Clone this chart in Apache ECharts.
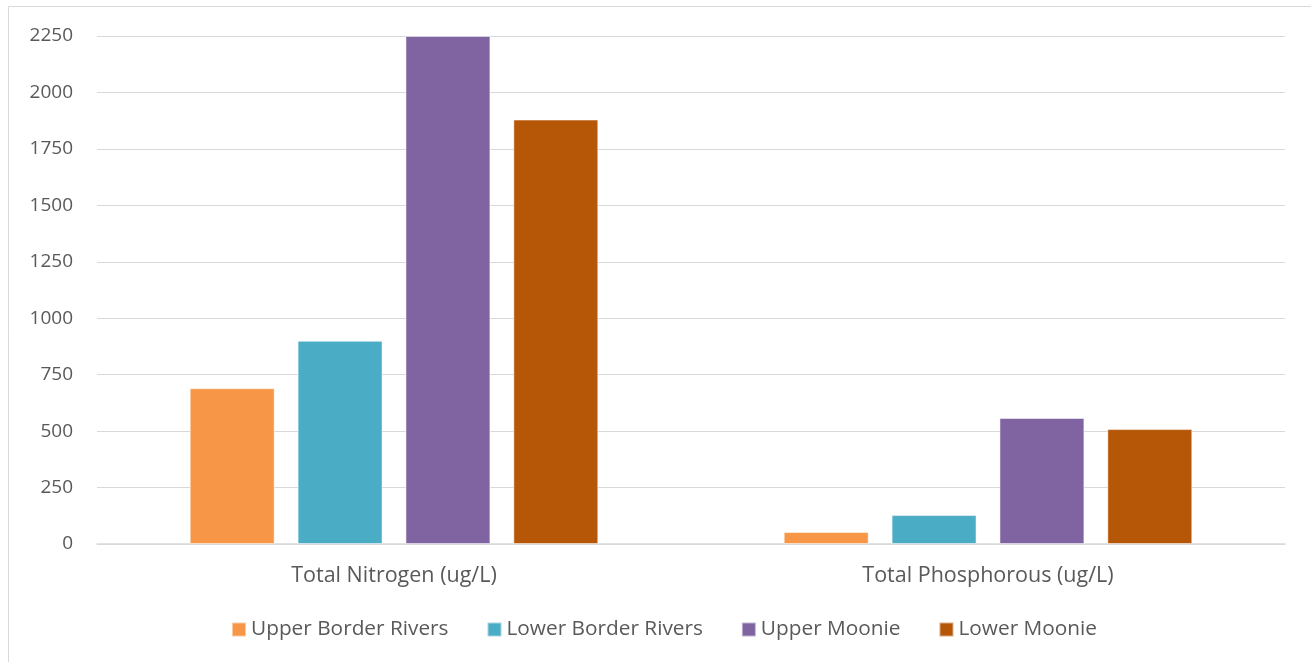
<!DOCTYPE html>
<html>
<head>
<meta charset="utf-8">
<script src="https://cdn.jsdelivr.net/npm/echarts@6/dist/echarts.min.js"></script>
<style>
  html, body { margin: 0; padding: 0; background: #fff; }
  #chart { width: 1311px; height: 662px; }
</style>
</head>
<body>
<div id="chart"></div>
<script>
// Water quality nutrient levels by catchment
const categories = ['Total Nitrogen (ug/L)', 'Total Phosphorous (ug/L)'];
const seriesNames = ['Upper Border Rivers', 'Lower Border Rivers', 'Upper Moonie', 'Lower Moonie'];
const upperBorderRivers = [690, 53];
const lowerBorderRivers = [900, 128];
const upperMoonie = [2250, 558];
const lowerMoonie = [1880, 509];
const colors = ['#F79646', '#4BACC6', '#8064A2', '#B65708'];

const seriesValues = [upperBorderRivers, lowerBorderRivers, upperMoonie, lowerMoonie];
const font = '"Open Sans", "Liberation Sans", sans-serif';

const chart = echarts.init(document.getElementById('chart'));
chart.setOption({
  animation: false,
  backgroundColor: '#ffffff',
  color: colors,
  graphic: [{
    type: 'rect',
    shape: { x: 8.5, y: 6.5, width: 1320, height: 670 },
    style: { fill: 'none', stroke: '#d9d9d9', lineWidth: 1 },
    silent: true
  }],
  grid: { left: 97, right: 26, top: 36, bottom: 118, containLabel: false },
  legend: {
    data: seriesNames,
    bottom: 17,
    left: 226,
    itemWidth: 14,
    itemHeight: 14,
    itemGap: 38,
    icon: 'rect',
    textStyle: { color: '#595959', fontSize: 20.8, fontFamily: font }
  },
  xAxis: {
    type: 'category',
    data: categories,
    axisLine: { lineStyle: { color: '#d9d9d9', width: 1.5 } },
    axisTick: { show: false },
    axisLabel: { color: '#595959', fontSize: 21.5, fontFamily: font, margin: 21 }
  },
  yAxis: {
    type: 'value',
    min: 0,
    max: 2250,
    interval: 250,
    axisLine: { show: false },
    axisTick: { show: false },
    axisLabel: { color: '#595959', fontSize: 19, fontFamily: font, margin: 24, formatter: v => String(v) },
    splitLine: { lineStyle: { color: '#d9d9d9', width: 1 } }
  },
  series: seriesValues.map((vals, i) => ({
    name: seriesNames[i],
    type: 'bar',
    data: vals,
    barWidth: '14.3%',
    barGap: '27%',
    itemStyle: { color: colors[i], borderColor: 'rgba(255,255,255,0.5)', borderWidth: 1 }
  }))
});
</script>
</body>
</html>
